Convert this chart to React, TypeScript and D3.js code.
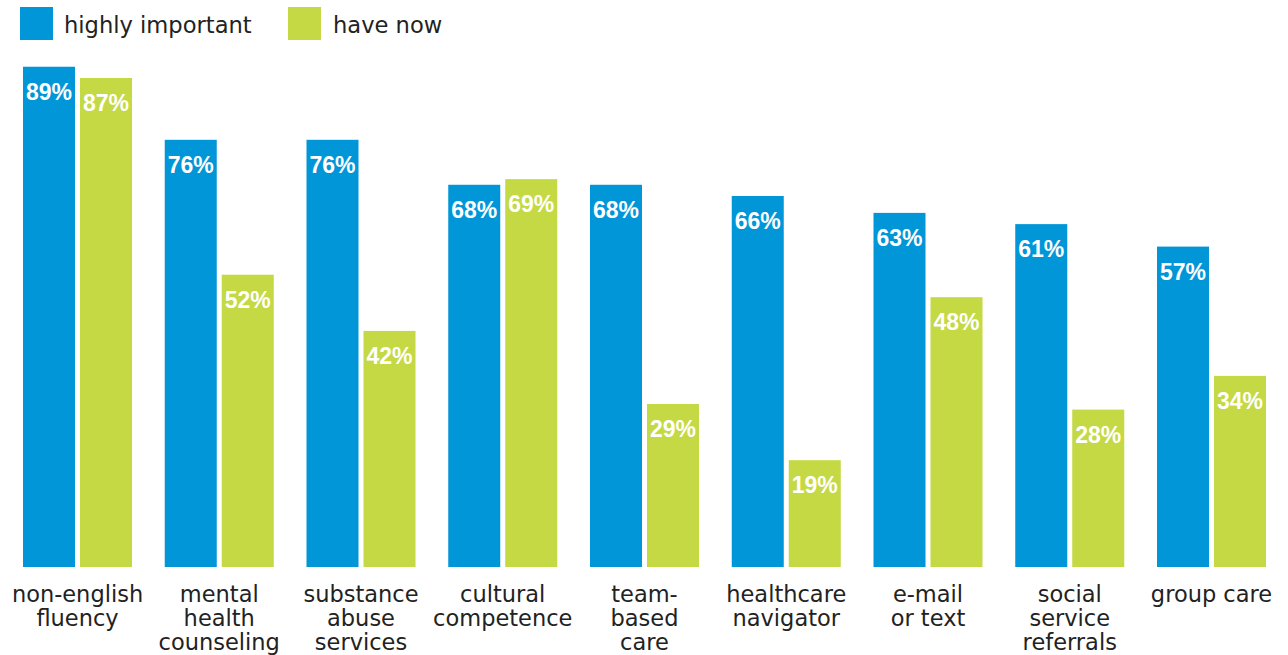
import React from 'react'
import { scaleBand, scaleLinear } from 'd3'

const categories = [
  'non-english fluency',
  'mental health counseling',
  'substance abuse services',
  'cultural competence',
  'team-based care',
  'healthcare navigator',
  'e-mail or text',
  'social service referrals',
  'group care',
]

// how each category label wraps
const categoryLines = [
  ['non-english', 'fluency'],
  ['mental', 'health', 'counseling'],
  ['substance', 'abuse', 'services'],
  ['cultural', 'competence'],
  ['team-', 'based', 'care'],
  ['healthcare', 'navigator'],
  ['e-mail', 'or text'],
  ['social', 'service', 'referrals'],
  ['group care'],
]

const highlyImportant = [89, 76, 76, 68, 68, 66, 63, 61, 57]
const haveNow = [87, 52, 42, 69, 29, 19, 48, 28, 34]

const seriesKeys = ['imp', 'now']
const seriesNames = ['highly important', 'have now']
const seriesColors = ['#0096D8', '#C4D943']

const WIDTH = 1288
const HEIGHT = 655
const BASE = 567

export default function App(): JSX.Element {
  const x0 = scaleBand<string>().domain(categories).range([23, 1266]).paddingInner(0.231).paddingOuter(0)
  const x1 = scaleBand<string>().domain(seriesKeys).range([0, x0.bandwidth()]).paddingInner(0.0877)
  const y = scaleLinear().domain([0, 100]).range([BASE, BASE - 562.1])

  const values = [highlyImportant, haveNow]

  return (
    <div style={{ position: 'absolute', left: 0, top: 0 }}>
      <svg width={WIDTH} height={HEIGHT} xmlns="http://www.w3.org/2000/svg">
        {/* legend */}
        <g fontFamily="'DejaVu Sans', sans-serif" fontSize={22.6} fill="#222">
          <rect x={20} y={7} width={33} height={33} fill={seriesColors[0]} />
          <text x={64} y={33}>{seriesNames[0]}</text>
          <rect x={288} y={7} width={33} height={33} fill={seriesColors[1]} />
          <text x={333} y={33}>{seriesNames[1]}</text>
        </g>

        {categories.map((c, i) => (
          <g key={c} transform={`translate(${x0(c)},0)`}>
            {seriesKeys.map((k, s) => {
              const v = values[s][i]
              const bx = x1(k) as number
              return (
                <g key={k}>
                  <rect x={bx} y={y(v)} width={x1.bandwidth()} height={BASE - y(v)} fill={seriesColors[s]} />
                  <text
                    x={bx + x1.bandwidth() / 2}
                    y={y(v) + 33}
                    textAnchor="middle"
                    fill="#fff"
                    fontFamily="'Liberation Sans', Arial, sans-serif"
                    fontWeight="bold"
                    fontSize={23}
                  >
                    {v}%
                  </text>
                </g>
              )
            })}
            <text
              x={x0.bandwidth() / 2}
              textAnchor="middle"
              fontFamily="'DejaVu Sans', sans-serif"
              fontSize={22.5}
              fill="#222"
            >
              {categoryLines[i].map((ln, j) => (
                <tspan key={j} x={x0.bandwidth() / 2} y={602 + j * 24}>
                  {ln}
                </tspan>
              ))}
            </text>
          </g>
        ))}
      </svg>
    </div>
  )
}
